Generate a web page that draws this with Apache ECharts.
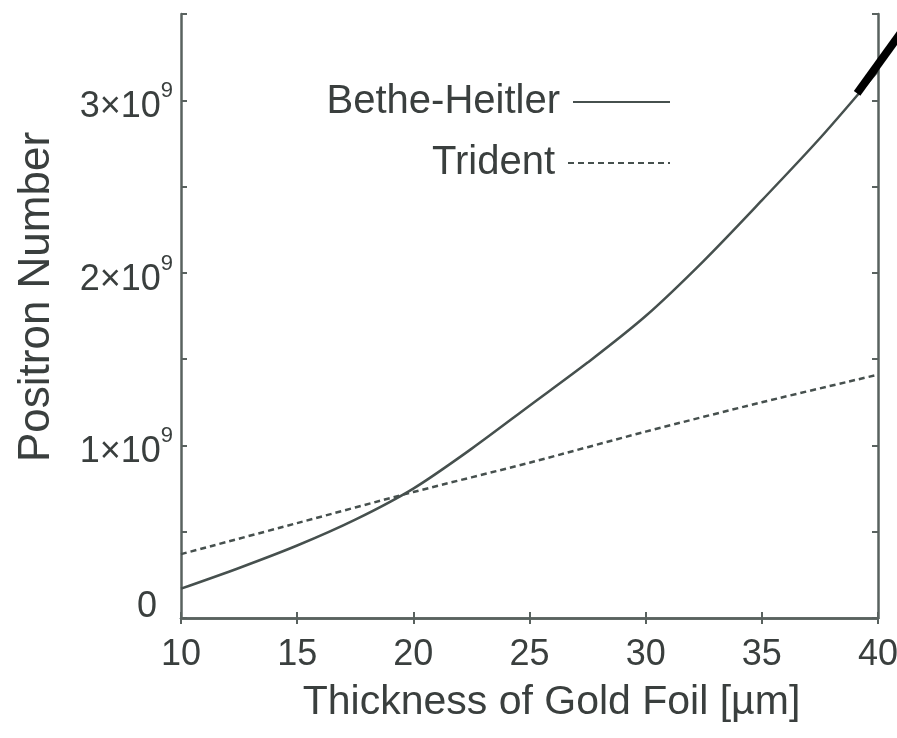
<!DOCTYPE html>
<html>
<head>
<meta charset="utf-8">
<script src="https://cdn.jsdelivr.net/npm/echarts@6/dist/echarts.min.js"></script>
<style>
  html, body { margin: 0; padding: 0; background: #fff; }
  #chart { width: 897px; height: 738px; }
</style>
</head>
<body>
<div id="chart"></div>
<script>
// Gold foil thickness in micrometres
const thickness = [10, 12.5, 15, 17.5, 20, 22.5, 25, 27.5, 30, 32.5, 35, 37.5, 40];
// Positron yield, in units of 1e9
const betheHeitler = [0.17, 0.29, 0.42, 0.57, 0.75, 0.98, 1.23, 1.48, 1.75, 2.07, 2.42, 2.78, 3.17];
const tridentX = [10, 15, 20, 25, 30, 35, 40];
const trident = [0.37, 0.55, 0.73, 0.90, 1.08, 1.25, 1.41];
// Heavy pointer running off the top-right corner
const pointerX = [39.1, 41.3];
const pointerY = [3.04, 3.45];

const xTicks = [10, 15, 20, 25, 30, 35, 40];
const yTickLabels = [0, 1, 2, 3];

const SCALE = 1e9;
const toPairs = (xs, ys) => xs.map((x, i) => [x, ys[i] * SCALE]);

const ink = '#3a3f3e';
const frame = '#59625f';
const curve = '#46504e';
const font = 'Liberation Sans, Arial, Helvetica, sans-serif';

const chart = echarts.init(document.getElementById('chart'), null, { renderer: 'canvas' });

const frameAxis = {
  axisLine: { show: true, lineStyle: { color: frame, width: 2.5 } },
  axisTick: { show: true, inside: true, length: 6, lineStyle: { color: frame, width: 2 } },
  splitLine: { show: false }
};

chart.setOption({
  animation: false,
  backgroundColor: '#ffffff',
  grid: { left: 181, right: 19, top: 14, bottom: 120, containLabel: false, outerBoundsMode: 'none' },
  xAxis: [
    Object.assign({
      type: 'value', min: 10, max: 40, interval: 5, position: 'bottom',
      name: 'Thickness of Gold Foil [\u00b5m]', nameLocation: 'middle', nameGap: 64,
      nameTextStyle: { fontFamily: font, fontSize: 41, color: ink, padding: [0, 0, 0, 44] },
      axisLabel: {
        show: true, margin: 19, fontFamily: font, fontSize: 36, color: ink,
        formatter: v => xTicks.includes(v) ? String(v) : ''
      }
    }, frameAxis),
    Object.assign({
      type: 'value', min: 10, max: 40, interval: 5, position: 'top',
      axisLabel: { show: false }
    }, frameAxis)
  ],
  yAxis: [
    Object.assign({
      type: 'value', min: 0, max: 3.5 * SCALE, interval: 0.5 * SCALE, position: 'left',
      name: 'Positron Number', nameLocation: 'middle', nameGap: 122,
      nameTextStyle: { fontFamily: font, fontSize: 44, color: ink, padding: [0, 0, 0, 38] },
      axisLabel: {
        show: true, margin: 8, fontFamily: font, color: ink,
        formatter: v => {
          const n = Math.round(v / SCALE * 2) / 2;
          if (!yTickLabels.includes(n)) return '';
          if (n === 0) return '{z|0}';
          return '{b|' + n + '\u00d710}{s|9}';
        },
        rich: {
          z: { fontFamily: font, fontSize: 36, color: ink, padding: [0, 16, 22, 0] },
          b: { fontFamily: font, fontSize: 36, color: ink, lineHeight: 40, padding: [14, 0, 0, 0] },
          s: { fontFamily: font, fontSize: 22, color: ink, verticalAlign: 'top', lineHeight: 22 }
        }
      }
    }, frameAxis),
    Object.assign({
      type: 'value', min: 0, max: 3.5 * SCALE, interval: 0.5 * SCALE, position: 'right',
      axisLabel: { show: false }
    }, frameAxis)
  ],
  legend: [
    {
      data: ['Bethe-Heitler'], orient: 'vertical', align: 'right',
      right: 221, top: 77, itemWidth: 97, itemHeight: 14,
      itemStyle: { opacity: 0 },
      textStyle: { fontFamily: font, fontSize: 40, color: ink, padding: [0, 8, 0, 0] },
      selectedMode: false
    },
    {
      data: ['Trident'], orient: 'vertical', align: 'right',
      right: 221, top: 138, itemWidth: 102, itemHeight: 14,
      itemStyle: { opacity: 0 },
      textStyle: { fontFamily: font, fontSize: 40, color: ink, padding: [0, 8, 0, 0] },
      selectedMode: false
    }
  ],
  series: [
    {
      name: 'Bethe-Heitler', type: 'line', xAxisIndex: 0, yAxisIndex: 0,
      data: toPairs(thickness, betheHeitler), smooth: 0.3,
      showSymbol: false, symbol: 'none',
      lineStyle: { color: curve, width: 2.5, type: 'solid' },
      itemStyle: { color: curve }
    },
    {
      name: 'Trident', type: 'line', xAxisIndex: 0, yAxisIndex: 0,
      data: toPairs(tridentX, trident), smooth: 0.3,
      showSymbol: false, symbol: 'none',
      lineStyle: { color: curve, width: 2.5, type: [6, 4] },
      itemStyle: { color: curve }
    }
  ]
});

// The pointer extends past the plot frame, so it is drawn as a graphic
// element whose ends are placed through the chart's own axis scales.
const pointerPts = toPairs(pointerX, pointerY).map(p => chart.convertToPixel({ gridIndex: 0 }, p));
chart.setOption({
  graphic: [{
    type: 'line', silent: true, z: 100,
    shape: { x1: pointerPts[0][0], y1: pointerPts[0][1], x2: pointerPts[1][0], y2: pointerPts[1][1] },
    style: { stroke: '#000000', lineWidth: 8, lineCap: 'butt' }
  }]
});
</script>
</body>
</html>
